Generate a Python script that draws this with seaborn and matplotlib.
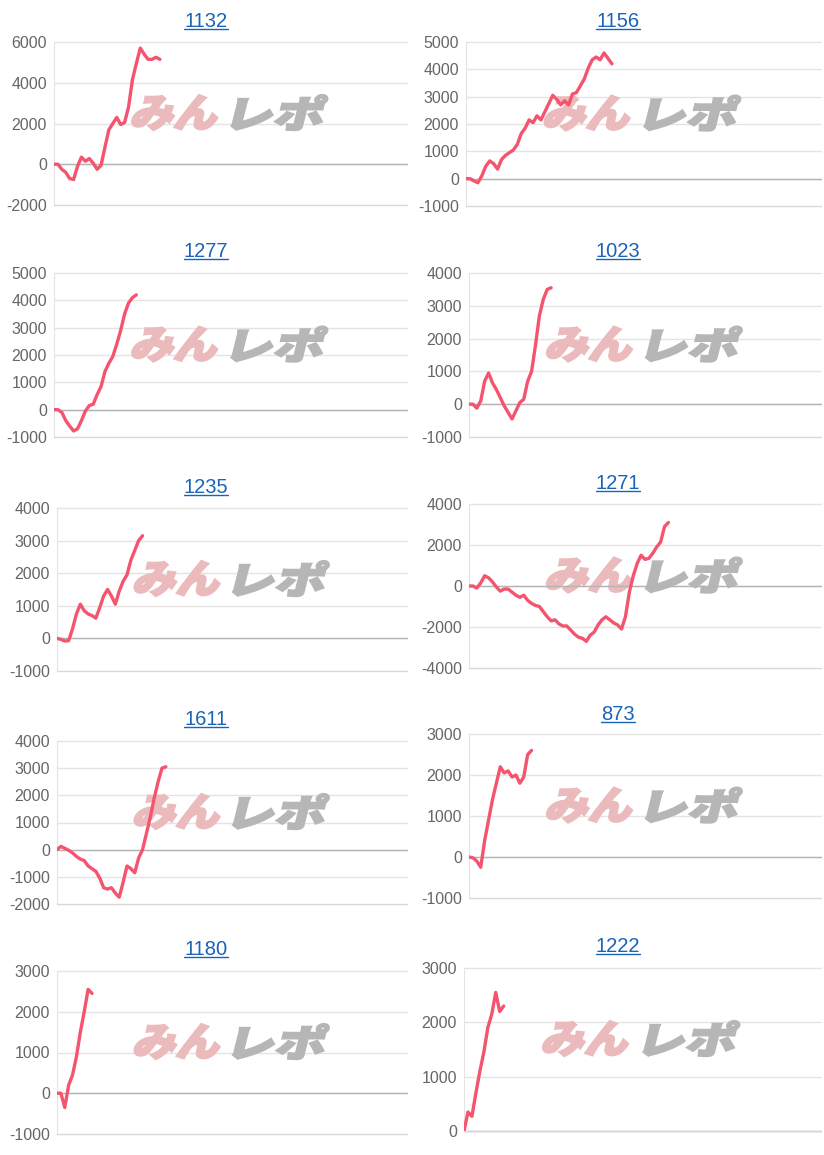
import numpy as np
import pandas as pd
import matplotlib
matplotlib.use("Agg")
import matplotlib.pyplot as plt
import seaborn as sns
from matplotlib.textpath import TextPath
from matplotlib.patches import PathPatch
from matplotlib.font_manager import FontProperties
from matplotlib.transforms import Affine2D, ScaledTranslation
from matplotlib.lines import Line2D

# ---- data ----
titles = ["1132", "1156", "1277", "1023", "1235", "1271", "1611", "873", "1180", "1222"]

s1132 = [0, 0, -250, -400, -700, -750, -100, 350, 150, 280, 50, -250, -50, 850,
         1700, 2000, 2300, 1950, 2050, 2800, 4150, 4950, 5700, 5400, 5150, 5150, 5250, 5150]
s1156 = [0, 0, -80, -150, 100, 450, 650, 550, 350, 700, 850, 950, 1050, 1250, 1650,
         1850, 2150, 2050, 2300, 2150, 2450, 2750, 3050, 2900, 2700, 2850, 2700, 3100,
         3150, 3400, 3650, 4050, 4350, 4450, 4350, 4600, 4400, 4200]
s1277 = [0, 0, -100, -400, -600, -780, -700, -400, -50, 150, 200, 550, 850, 1400,
         1700, 1950, 2400, 2900, 3500, 3900, 4100, 4200]
s1023 = [0, 0, -120, 100, 700, 950, 650, 450, 200, -50, -250, -450, -200, 50, 150,
         700, 1000, 1800, 2700, 3200, 3500, 3550]
s1235 = [0, -30, -80, -70, 300, 750, 1050, 850, 750, 700, 620, 950, 1300, 1500, 1300,
         1050, 1450, 1750, 1950, 2400, 2700, 3000, 3150]
s1271 = [0, 0, -100, 150, 500, 400, 200, -50, -250, -150, -150, -300, -450, -550, -450,
         -700, -850, -950, -1000, -1250, -1500, -1700, -1650, -1850, -1950, -1950, -2150,
         -2350, -2500, -2550, -2700, -2400, -2250, -1900, -1650, -1500, -1650, -1800,
         -1900, -2100, -1500, -300, 500, 1100, 1500, 1300, 1350, 1600, 1900, 2150, 2900, 3100]
s1611 = [0, 120, 50, -20, -120, -250, -350, -400, -600, -700, -800, -1050, -1400, -1450,
         -1400, -1600, -1750, -1200, -600, -700, -850, -300, 0, 600, 1200, 1900, 2500, 3000, 3050]
s873 = [0, -20, -100, -250, 400, 900, 1400, 1800, 2200, 2050, 2100, 1950, 2000, 1800,
        1950, 2500, 2600]
s1180 = [0, 0, -350, 200, 450, 900, 1500, 2000, 2550, 2450]
s1222 = [0, 350, 270, 700, 1100, 1450, 1900, 2150, 2550, 2200, 2300]

series = [s1132, s1156, s1277, s1023, s1235, s1271, s1611, s873, s1180, s1222]

y_lo = [-2000, -1000, -1000, -1000, -1000, -4000, -2000, -1000, -1000, 0]
y_hi = [6000, 5000, 5000, 4000, 4000, 4000, 4000, 3000, 3000, 3000]
y_step = [2000, 1000, 1000, 1000, 1000, 2000, 1000, 1000, 1000, 1000]

# ---- layout (pixels in an 824x1155 canvas) ----
W, H = 824, 1155
ax_left = [54, 466, 54, 469, 57, 469, 57, 469, 57, 464]
ax_top = [42, 42, 273, 273, 508, 504, 741, 734, 971, 968]
ax_bot = [205, 206, 437, 437, 671, 668, 904, 898, 1134, 1131]
title_y = [20, 20, 250, 250, 486, 482, 718, 713, 948, 945]

LINE = "#f4546e"
BLUE = "#1a64b8"
GRID = "#e4e4e4"

sns.set_style("white")
plt.rcParams["font.family"] = ["Liberation Sans", "DejaVu Sans"]
plt.rcParams["axes.unicode_minus"] = False

fig = plt.figure(figsize=(W / 100, H / 100), dpi=100)
wm_font = FontProperties(family="Noto Sans CJK JP", weight="black")


def stamp(ax, text, fx, fy, w_px, h_px, color):
    tp = TextPath((0, 0), text, size=10, prop=wm_font)
    ext = tp.get_extents()
    slant = np.tan(np.radians(14))
    tr = (Affine2D().translate(-ext.x0, -ext.y0)
          .scale((w_px - h_px * slant) / ext.width, h_px / ext.height)
          .skew_deg(14, 0)
          + ScaledTranslation(fx, fy, ax.transAxes))
    ax.add_patch(PathPatch(tp, transform=tr, facecolor=color, edgecolor=color,
                           linewidth=1.6, zorder=1))


title_texts = []
for i, vals in enumerate(series):
    right = 407 if i % 2 == 0 else 821
    ax = fig.add_axes([ax_left[i] / W, 1 - ax_bot[i] / H,
                       (right - ax_left[i]) / W, (ax_bot[i] - ax_top[i]) / H])
    df = pd.DataFrame({"x": np.arange(len(vals)), "y": vals})
    sns.lineplot(data=df, x="x", y="y", ax=ax, color=LINE, linewidth=2.4, zorder=5,
                 solid_joinstyle="round", solid_capstyle="round")

    ax.set_xlim(0, 90)
    ax.set_ylim(y_lo[i], y_hi[i])
    ax.set_yticks(np.arange(y_lo[i], y_hi[i] + 1, y_step[i]))
    ax.set_xticks([])
    ax.set_xlabel("")
    ax.set_ylabel("")
    ax.grid(axis="y", color=GRID, linewidth=1)
    for t in ax.get_ygridlines():
        t.set_clip_on(False)
    ax.axhline(0, color="#b4b4b4", linewidth=1, zorder=2, clip_on=False)
    for sp in ["top", "right"]:
        ax.spines[sp].set_visible(False)
    ax.spines["left"].set_color(GRID)
    ax.spines["bottom"].set_color("#d8d8d8")
    ax.tick_params(axis="y", length=4, width=1, color=GRID, labelsize=11.5,
                   labelcolor="#666666", pad=1.0)

    # watermark
    stamp(ax, "みん", 0.215, 0.46, 93, 35, "#ebbabc")
    stamp(ax, "レポ", 0.50, 0.46, 98, 35, "#b6b6b6")

    cx = 206 if i % 2 == 0 else 618
    txt = fig.text(cx / W, 1 - (title_y[i] + 7) / H, titles[i], ha="center",
                   va="baseline", fontsize=14.5, color=BLUE)
    title_texts.append((txt, title_y[i] + 7))

fig.canvas.draw()
renderer = fig.canvas.get_renderer()
for txt, base in title_texts:
    bb = txt.get_window_extent(renderer)
    yy = 1 - (base + 1.8) / H
    fig.add_artist(Line2D([bb.x0 / W, bb.x1 / W], [yy, yy], transform=fig.transFigure,
                          color=BLUE, linewidth=1.0))

fig.savefig("out.png", dpi=100)
